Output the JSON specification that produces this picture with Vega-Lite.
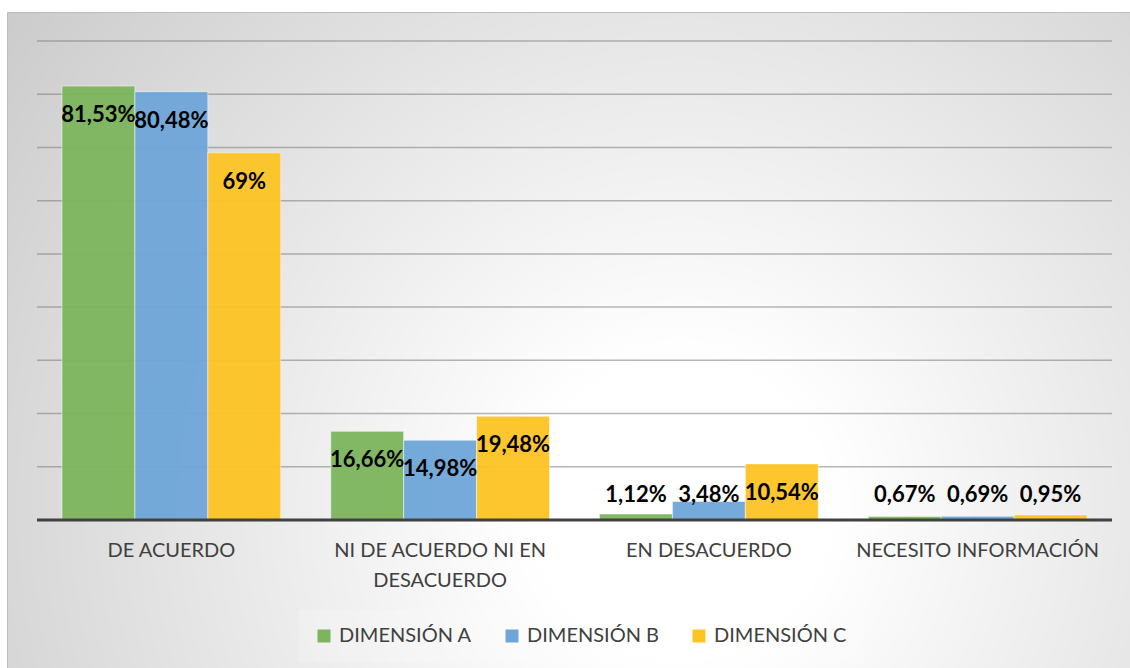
{
  "$schema": "https://vega.github.io/schema/vega-lite/v6.json",
  "width": 1123,
  "height": 656,
  "autosize": {"type": "none"},
  "padding": {"left": 7, "top": 12, "right": 0, "bottom": 0},
  "background": "#ffffff",
  "view": {
    "fill": {"gradient": "radial", "x1": 0.6, "y1": 0.65, "x2": 0.6, "y2": 0.65, "r1": 0, "r2": 0.88,
      "stops": [{"offset": 0, "color": "#ffffff"}, {"offset": 0.15, "color": "#ffffff"}, {"offset": 1, "color": "#c0c0c0"}]},
    "stroke": "#bdbdbd",
    "strokeWidth": 1
  },
  "config": {"font": "Lato"},
  "datasets": {
    "main": [
      {"category": "DE ACUERDO", "series": "DIMENSIÓN A", "value": 81.53, "label": "81,53%"},
      {"category": "DE ACUERDO", "series": "DIMENSIÓN B", "value": 80.48, "label": "80,48%"},
      {"category": "DE ACUERDO", "series": "DIMENSIÓN C", "value": 69, "label": "69%"},
      {"category": "NI DE ACUERDO NI EN DESACUERDO", "series": "DIMENSIÓN A", "value": 16.66, "label": "16,66%"},
      {"category": "NI DE ACUERDO NI EN DESACUERDO", "series": "DIMENSIÓN B", "value": 14.98, "label": "14,98%"},
      {"category": "NI DE ACUERDO NI EN DESACUERDO", "series": "DIMENSIÓN C", "value": 19.48, "label": "19,48%"},
      {"category": "EN DESACUERDO", "series": "DIMENSIÓN A", "value": 1.12, "label": "1,12%"},
      {"category": "EN DESACUERDO", "series": "DIMENSIÓN B", "value": 3.48, "label": "3,48%"},
      {"category": "EN DESACUERDO", "series": "DIMENSIÓN C", "value": 10.54, "label": "10,54%"},
      {"category": "NECESITO INFORMACIÓN", "series": "DIMENSIÓN A", "value": 0.67, "label": "0,67%"},
      {"category": "NECESITO INFORMACIÓN", "series": "DIMENSIÓN B", "value": 0.69, "label": "0,69%"},
      {"category": "NECESITO INFORMACIÓN", "series": "DIMENSIÓN C", "value": 0.95, "label": "0,95%"}
    ],
    "grid": [{"g": 10}, {"g": 20}, {"g": 30}, {"g": 40}, {"g": 50}, {"g": 60}, {"g": 70}, {"g": 80}, {"g": 90}]
  },
  "resolve": {"scale": {"x": "independent"}},
  "layer": [
    {
      "data": {"name": "grid"},
      "mark": {"type": "rule", "stroke": "#7a7a7a", "strokeOpacity": 0.55, "strokeWidth": 1.5},
      "encoding": {
        "y": {"field": "g", "type": "quantitative", "scale": {"domain": [-27.81, 95.45], "nice": false, "zero": false}, "axis": null},
        "x": {"datum": 0, "type": "quantitative", "scale": {"domain": [0, 1], "range": [30, 1105]}, "axis": null},
        "x2": {"datum": 1}
      }
    },
    {
      "data": {"name": "main"},
      "mark": {"type": "bar", "opacity": 0.95, "stroke": "#ffffff", "strokeOpacity": 0.5, "strokeWidth": 1},
      "encoding": {
        "x": {"field": "category", "type": "nominal", "sort": null,
          "scale": {"range": [30, 1105], "paddingInner": 0.186, "paddingOuter": 0.093},
          "axis": {"orient": "bottom", "offset": -148, "title": null, "domain": false, "ticks": false, "grid": false,
            "labelAngle": 0, "labelFontSize": 20, "labelColor": "#404040", "labelPadding": 20, "labelBaseline": "top",
            "labelLineHeight": 30, "labelFont": "Lato", "labelLimit": 0,
            "labelExpr": "datum.value == 'NI DE ACUERDO NI EN DESACUERDO' ? ['NI DE ACUERDO NI EN', 'DESACUERDO'] : datum.value"}},
        "xOffset": {"field": "series", "type": "nominal", "scale": {"paddingInner": 0, "paddingOuter": 0}},
        "y": {"field": "value", "type": "quantitative", "scale": {"domain": [-27.81, 95.45], "nice": false, "zero": false}, "axis": null},
        "y2": {"datum": 0},
        "color": {"field": "series", "type": "nominal",
          "scale": {"domain": ["DIMENSIÓN A", "DIMENSIÓN B", "DIMENSIÓN C"], "range": ["#7db55c", "#6ea6d9", "#fdc424"]},
          "legend": {"title": null, "orient": "none", "direction": "horizontal", "legendX": 291, "legendY": 598,
            "symbolType": "square", "symbolSize": 169, "symbolStrokeWidth": 0, "symbolOpacity": 1,
            "labelFontSize": 20, "labelColor": "#404040", "labelFont": "Lato", "labelOffset": 5, "columnPadding": 30,
            "padding": 16, "fillColor": "rgba(255,255,255,0.18)"}}
      }
    },
    {
      "data": {"name": "grid"},
      "transform": [{"filter": "datum.g == 10"}],
      "mark": {"type": "rule", "stroke": "#404040", "strokeWidth": 3},
      "encoding": {
        "y": {"datum": 0, "type": "quantitative", "scale": {"domain": [-27.81, 95.45], "nice": false, "zero": false}, "axis": null},
        "x": {"datum": 0, "type": "quantitative", "scale": {"domain": [0, 1], "range": [30, 1105]}, "axis": null},
        "x2": {"datum": 1}
      }
    },
    {
      "data": {"name": "main"},
      "transform": [{"calculate": "max(datum.value - 5.45, 4.7)", "as": "labelY"}],
      "mark": {"type": "text", "fontSize": 22, "fontWeight": "bold", "color": "#000000", "baseline": "middle", "font": "Lato"},
      "encoding": {
        "x": {"field": "category", "type": "nominal", "sort": null,
          "scale": {"range": [30, 1105], "paddingInner": 0.186, "paddingOuter": 0.093}, "axis": null},
        "xOffset": {"field": "series", "type": "nominal", "scale": {"paddingInner": 0, "paddingOuter": 0}},
        "y": {"field": "labelY", "type": "quantitative", "scale": {"domain": [-27.81, 95.45], "nice": false, "zero": false}, "axis": null},
        "text": {"field": "label"}
      }
    }
  ]
}
